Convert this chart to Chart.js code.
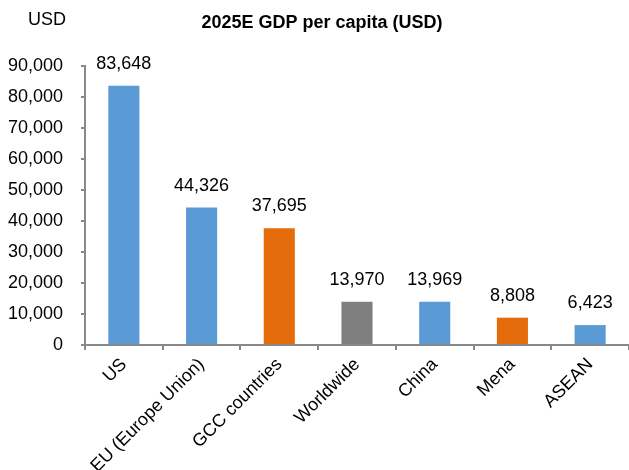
<!DOCTYPE html>
<html>
<head>
<meta charset="utf-8">
<script src="https://cdn.jsdelivr.net/npm/chart.js@4.4.1/dist/chart.umd.min.js"></script>
<style>
  html, body { margin: 0; padding: 0; background: #fff; }
  #wrap { width: 629px; height: 470px; }
</style>
</head>
<body>
<div id="wrap"><canvas id="gdp"></canvas></div>
<script>
var regions = ['US', 'EU (Europe Union)', 'GCC countries', 'Worldwide', 'China', 'Mena', 'ASEAN'];
var gdpPerCapita = [83648, 44326, 37695, 13970, 13969, 8808, 6423];
var barColors = ['#5B9BD5', '#5B9BD5', '#E46C0A', '#7F7F7F', '#5B9BD5', '#E46C0A', '#5B9BD5'];

var FONT = '"Liberation Sans", Arial, sans-serif';
var AXIS = '#898989';

// numbers above bars + heading + unit label
var labelsPlugin = {
    id: 'gdpLabels',
    afterDatasetsDraw: function(chart) {
        var ctx = chart.ctx;
        var meta = chart.getDatasetMeta(0);
        ctx.save();
        ctx.font = '18px ' + FONT;
        ctx.fillStyle = '#000';
        ctx.textAlign = 'center';
        ctx.textBaseline = 'alphabetic';
        meta.data.forEach(function(bar, i) {
            ctx.fillText(gdpPerCapita[i].toLocaleString('en-US'), bar.x, bar.y - 17);
        });
        ctx.textBaseline = 'middle';
        ctx.font = 'bold 18px ' + FONT;
        ctx.fillText('2025E GDP per capita (USD)', 322, 23);
        ctx.font = '18px ' + FONT;
        ctx.fillText('USD', 47, 20);
        ctx.restore();
    }
};

var ctx = document.getElementById('gdp').getContext('2d');
var chart = new Chart(ctx, {
    type: 'bar',
    data: {
        labels: regions,
        datasets: [{
            data: gdpPerCapita,
            backgroundColor: barColors,
            barPercentage: 0.4,
            categoryPercentage: 1.0
        }]
    },
    options: {
        responsive: true,
        maintainAspectRatio: false,
        animation: false,
        layout: { padding: { top: 66, left: 0, right: 0, bottom: 0 } },
        plugins: {
            legend: { display: false },
            tooltip: { enabled: false }
        },
        scales: {
            x: {
                afterFit: function(s) { s.height = 125; },
                grid: {
                    display: true,
                    drawOnChartArea: false,
                    color: AXIS,
                    lineWidth: 2,
                    tickLength: 5,
                    offset: true
                },
                border: { color: AXIS, width: 2 },
                ticks: {
                    color: '#000',
                    font: { family: FONT, size: 18 },
                    minRotation: 45,
                    maxRotation: 45,
                    padding: 4
                }
            },
            y: {
                min: 0,
                max: 90000,
                afterFit: function(s) { s.width = 85; },
                grid: {
                    display: true,
                    drawOnChartArea: false,
                    color: AXIS,
                    lineWidth: 2,
                    tickLength: 4
                },
                border: { color: AXIS, width: 2 },
                ticks: {
                    stepSize: 10000,
                    color: '#000',
                    font: { family: FONT, size: 18 },
                    padding: 18,
                    callback: function(v) { return v.toLocaleString('en-US'); }
                }
            }
        }
    },
    plugins: [labelsPlugin]
});
</script>
</body>
</html>
